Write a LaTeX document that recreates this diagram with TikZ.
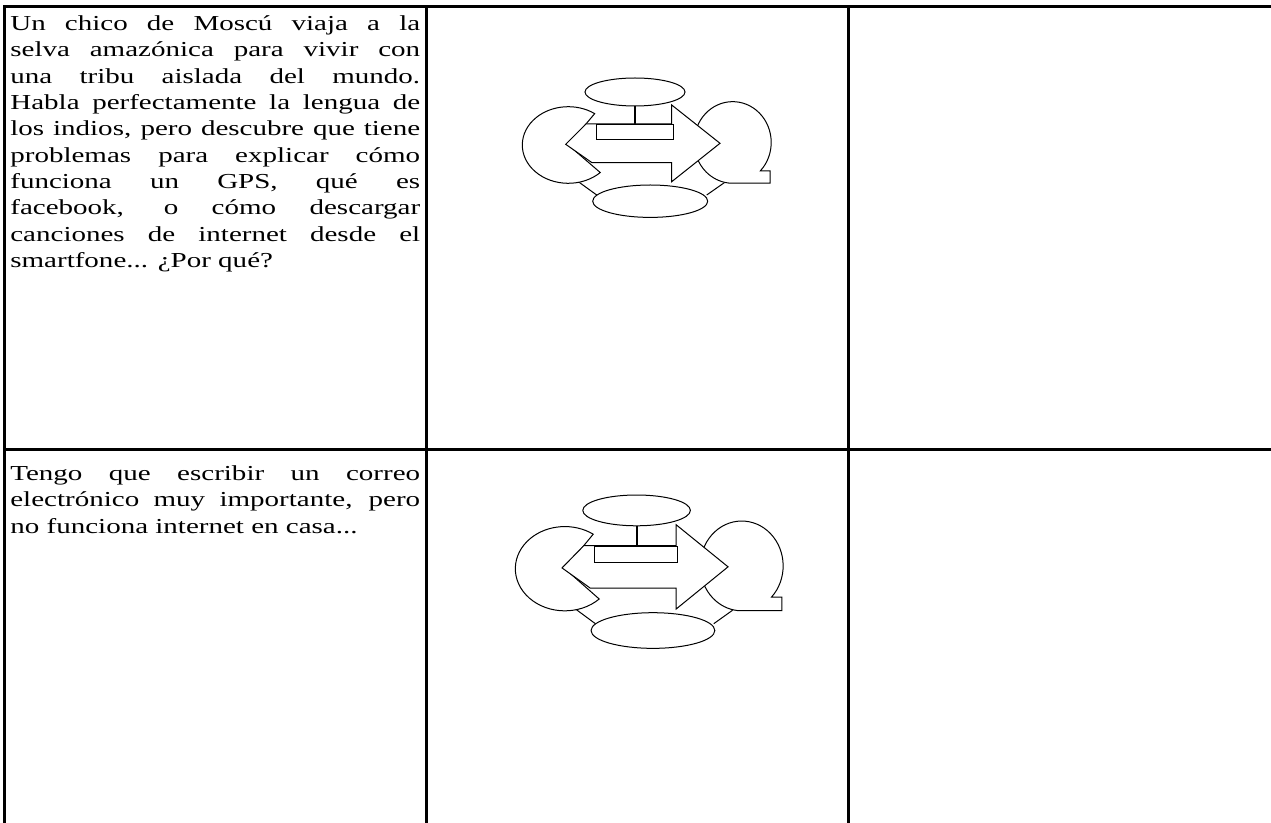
\documentclass[tikz,border=0pt]{standalone}
\usepackage{fontspec}
\setmainfont{Liberation Serif}
\usepackage{tikz}
\usetikzlibrary{positioning}

\tikzset{
  rule/.style={line width=2.25pt},
  part/.style={draw, line width=0.75, fill=white},
  story/.style={anchor=base west, inner sep=0, xscale=1.36, text width=226pt, align=justify, font=\fontsize{16}{19.75}\selectfont}
}

\newcommand{\mapicon}{%
\draw [line width=0.75] (56.3,103.7) -- (74.7,117) ;
\draw [line width=0.75] (202.3,104.7) -- (184.7,117) ;
\draw [part] (46.3,67) -- ++(46:46 and 38.3) arc [start angle=46, end angle=305, x radius=46, y radius=38.3] -- cycle ;
\draw [part] (238.4,92.8) arc [start angle=44, end angle=-264, x radius=38.5, y radius=40.8] -- (248,105.1) -- (248,92.8) -- cycle ;
\draw [part] (128.2,123.2) ellipse [x radius=57.5, y radius=16.2] ;
\draw [part] (113,14) ellipse [x radius=50, y radius=14] ;
\draw [line width=1.5] (113,28) -- (113,46) ;
\draw [part] (43.7,66.3) -- (64,46) -- (149.7,46) -- (149.7,27) -- (198,65.3) -- (149.7,103.7) -- (149.7,84.7) -- (70,84.7) -- cycle ;
\draw [part] (74,47) rectangle (151,61.3) ;
}

\begin{document}
\begin{tikzpicture}[x=0.75pt,y=0.75pt, yscale=-1]
\useasboundingbox (0,0) rectangle (1271,823);
% table
\draw [rule] (4.5,823) -- (4.5,7) -- (1271,7) ;
\draw [rule] (4.5,449.5) -- (1271,449.5) ;
\draw [rule] (426.5,7) -- (426.5,823) ;
\draw [rule] (848.5,7) -- (848.5,823) ;
% icons
\begin{scope}[shift={(522,78)}]
\mapicon
\end{scope}
\begin{scope}[shift={(515,495)}, xscale=1.076, yscale=1.1]
\mapicon
\end{scope}
% Text Node
\draw (10,30.5) node [story] (storyA) {Un chico de Moscú viaja a la\linebreak selva amazónica para vivir con\linebreak una tribu aislada del mundo.\linebreak Habla perfectamente la lengua de\linebreak los indios, pero descubre que tiene\linebreak problemas para explicar cómo\linebreak funciona un GPS, qué es\linebreak facebook, o cómo descargar\linebreak canciones de internet desde el\linebreak smartfone... ¿Por qué?};
% Text Node
\draw (10,480.5) node [story] (storyB) {Tengo que escribir un correo\linebreak electrónico muy importante, pero\linebreak no funciona internet en casa...};

\end{tikzpicture}
\end{document}
